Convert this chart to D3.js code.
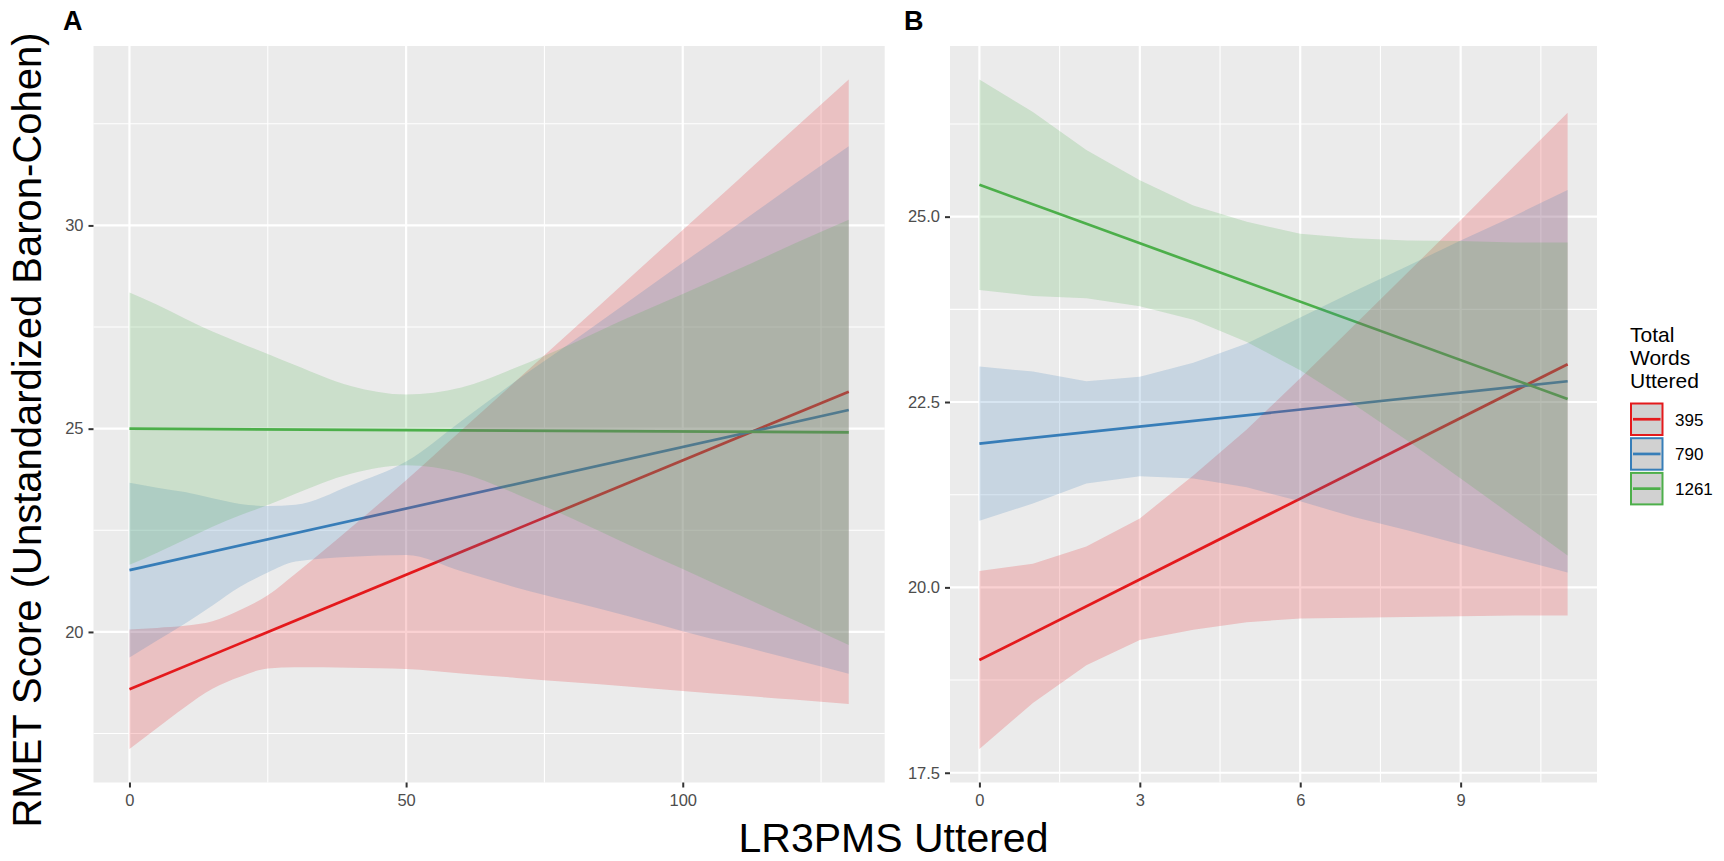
<!DOCTYPE html>
<html>
<head>
<meta charset="utf-8">
<script src="https://cdn.jsdelivr.net/npm/d3@7"></script>
<style>
  html, body { margin: 0; padding: 0; background: #ffffff; }
  svg { display: block; }
  text { font-family: "Liberation Sans", Arial, Helvetica, sans-serif; }
</style>
</head>
<body>
<svg id="chart" width="1724" height="861"></svg>
<script>
// ---------------- DATA ----------------
const groups = ["395", "790", "1261"];
const groupColors = ["#E41A1C", "#377EB8", "#4DAF4A"];

// Panel A: x = LR3PMS uttered
const xA = [0, 5, 10, 15, 20, 25, 30, 40, 50, 60, 70, 80, 90, 100, 110, 120, 130];
const lineA_395  = [18.59, 25.91];   // fitted values at x = 0 and x = 130
const lineA_790  = [21.52, 25.46];
const lineA_1261 = [25.00, 24.91];
const loA_395  = [17.12, 17.64, 18.15, 18.60, 18.90, 19.10, 19.13, 19.12, 19.09, 18.98, 18.87, 18.76, 18.66, 18.55, 18.44, 18.34, 18.23];
const hiA_395  = [20.06, 20.10, 20.15, 20.26, 20.54, 20.90, 21.43, 22.56, 23.73, 24.96, 26.19, 27.42, 28.66, 29.89, 31.12, 32.36, 33.59];
const loA_790  = [19.37, 19.79, 20.20, 20.65, 21.11, 21.46, 21.73, 21.85, 21.89, 21.49, 21.09, 20.74, 20.39, 20.02, 19.67, 19.32, 18.97];
const hiA_790  = [23.67, 23.55, 23.44, 23.29, 23.15, 23.10, 23.13, 23.61, 24.19, 25.19, 26.19, 27.14, 28.11, 29.08, 30.03, 31.00, 31.95];
const loA_1261 = [21.65, 21.95, 22.27, 22.59, 22.87, 23.12, 23.40, 23.89, 24.10, 23.91, 23.39, 22.79, 22.16, 21.55, 20.92, 20.30, 19.68];
const hiA_1261 = [28.35, 28.05, 27.71, 27.39, 27.11, 26.84, 26.56, 26.05, 25.84, 26.01, 26.51, 27.09, 27.72, 28.31, 28.92, 29.54, 30.14];

// Panel B
const xB = [0, 1, 2, 3, 4, 5, 6, 7, 8, 9, 10, 11];
const lineB_395  = [19.02, 23.01];   // fitted values at x = 0 and x = 11
const lineB_790  = [21.94, 22.78];
const lineB_1261 = [25.43, 22.54];
const loB_395  = [17.82, 18.44, 18.95, 19.29, 19.43, 19.53, 19.58, 19.59, 19.60, 19.61, 19.62, 19.62];
const hiB_395  = [20.22, 20.32, 20.55, 20.93, 21.51, 22.13, 22.82, 23.53, 24.24, 24.95, 25.68, 26.40];
const loB_790  = [20.90, 21.13, 21.40, 21.50, 21.47, 21.35, 21.16, 20.95, 20.77, 20.58, 20.39, 20.20];
const hiB_790  = [22.98, 22.91, 22.78, 22.84, 23.03, 23.29, 23.64, 23.99, 24.33, 24.68, 25.01, 25.36];
const loB_1261 = [24.01, 23.93, 23.90, 23.79, 23.61, 23.31, 22.93, 22.47, 21.98, 21.47, 20.95, 20.43];
const hiB_1261 = [26.85, 26.41, 25.90, 25.49, 25.15, 24.93, 24.77, 24.71, 24.68, 24.67, 24.65, 24.65];

// Axis ticks
const xTicksA = [0, 50, 100];
const xMinorA = [25, 75, 125];
const yTicksA = [20, 25, 30];
const yMinorA = [17.5, 22.5, 27.5, 32.5];
const xTicksB = [0, 3, 6, 9];
const xMinorB = [1.5, 4.5, 7.5, 10.5];
const yTicksB = [17.5, 20.0, 22.5, 25.0];
const yMinorB = [18.75, 21.25, 23.75, 26.25];

const yTitle = "RMET Score (Unstandardized Baron-Cohen)";
const xTitle = "LR3PMS Uttered";
const legendTitle = ["Total", "Words", "Uttered"];

// ---------------- DRAWING ----------------
const svg = d3.select("#chart");
const TOP = 46, BOTTOM = 782.5;

function expand(arr) {
  const e = d3.extent(arr);
  const p = (e[1] - e[0]) * 0.05;
  return [e[0] - p, e[1] + p];
}

function drawPanel(cfg) {
  const x = d3.scaleLinear().domain(expand(cfg.xs)).range([cfg.left, cfg.right]);
  const allY = [].concat(...cfg.lo, ...cfg.hi);
  const y = d3.scaleLinear().domain(expand(allY)).range([BOTTOM, TOP]);
  const g = svg.append("g");

  g.append("rect").attr("x", cfg.left).attr("y", TOP)
    .attr("width", cfg.right - cfg.left).attr("height", BOTTOM - TOP)
    .attr("fill", "#EBEBEB");

  // minor grid
  cfg.yMinor.forEach(v => g.append("line").attr("x1", cfg.left).attr("x2", cfg.right)
    .attr("y1", y(v)).attr("y2", y(v)).attr("stroke", "#ffffff").attr("stroke-width", 1.1));
  cfg.xMinor.forEach(v => g.append("line").attr("y1", TOP).attr("y2", BOTTOM)
    .attr("x1", x(v)).attr("x2", x(v)).attr("stroke", "#ffffff").attr("stroke-width", 1.1));
  // major grid
  cfg.yTicks.forEach(v => g.append("line").attr("x1", cfg.left).attr("x2", cfg.right)
    .attr("y1", y(v)).attr("y2", y(v)).attr("stroke", "#ffffff").attr("stroke-width", 2.2));
  cfg.xTicks.forEach(v => g.append("line").attr("y1", TOP).attr("y2", BOTTOM)
    .attr("x1", x(v)).attr("x2", x(v)).attr("stroke", "#ffffff").attr("stroke-width", 2.2));

  // lines (drawn first, ribbons overlay them as in the original)
  const x0 = cfg.xs[0], x1 = cfg.xs[cfg.xs.length - 1];
  cfg.lines.forEach((ln, i) => {
    g.append("path")
      .attr("d", d3.line().x(d => x(d[0])).y(d => y(d[1]))([[x0, ln[0]], [x1, ln[1]]]))
      .attr("stroke", groupColors[i]).attr("stroke-width", 2.7).attr("fill", "none");
  });

  // ribbons
  const area = d3.area().curve(cfg.curve)
    .x(d => x(d.x)).y0(d => y(d.lo)).y1(d => y(d.hi));
  cfg.lo.forEach((lo, i) => {
    const pts = cfg.xs.map((xv, j) => ({ x: xv, lo: lo[j], hi: cfg.hi[i][j] }));
    g.append("path").attr("d", area(pts))
      .attr("fill", groupColors[i]).attr("fill-opacity", 0.2).attr("stroke", "none");
  });

  // axes
  const xAxis = d3.axisBottom(x).tickValues(cfg.xTicks).tickSize(5).tickPadding(7)
    .tickFormat(cfg.xFmt);
  const yAxis = d3.axisLeft(y).tickValues(cfg.yTicks).tickSize(5).tickPadding(5)
    .tickFormat(cfg.yFmt);
  const gx = g.append("g").attr("transform", `translate(0,${BOTTOM})`).call(xAxis);
  const gy = g.append("g").attr("transform", `translate(${cfg.left},0)`).call(yAxis);
  [gx, gy].forEach(a => {
    a.select(".domain").remove();
    a.selectAll(".tick line").attr("stroke", "#333333").attr("stroke-width", 2);
    a.selectAll(".tick text").attr("fill", "#4D4D4D").attr("font-size", 16.5)
      .attr("font-family", "Liberation Sans, Arial, sans-serif");
  });

  // panel tag
  svg.append("text").attr("x", cfg.tagX).attr("y", 30).text(cfg.tag)
    .attr("font-size", 27).attr("font-weight", "bold").attr("fill", "#000");
}

drawPanel({
  tag: "A", tagX: 63, left: 93.5, right: 884.7, xs: xA,
  lines: [lineA_395, lineA_790, lineA_1261],
  lo: [loA_395, loA_790, loA_1261], hi: [hiA_395, hiA_790, hiA_1261],
  xTicks: xTicksA, xMinor: xMinorA, yTicks: yTicksA, yMinor: yMinorA,
  xFmt: d3.format("d"), yFmt: d3.format("d"), curve: d3.curveMonotoneX
});
drawPanel({
  tag: "B", tagX: 904, left: 950, right: 1597, xs: xB,
  lines: [lineB_395, lineB_790, lineB_1261],
  lo: [loB_395, loB_790, loB_1261], hi: [hiB_395, hiB_790, hiB_1261],
  xTicks: xTicksB, xMinor: xMinorB, yTicks: yTicksB, yMinor: yMinorB,
  xFmt: d3.format("d"), yFmt: d3.format(".1f"), curve: d3.curveLinear
});

// axis titles
svg.append("text").attr("transform", "translate(41,430) rotate(-90)")
  .attr("text-anchor", "middle").attr("font-size", 40).attr("fill", "#000").text(yTitle);
svg.append("text").attr("x", 893.5).attr("y", 852)
  .attr("text-anchor", "middle").attr("font-size", 41).attr("fill", "#000").text(xTitle);

// legend
const lg = svg.append("g");
legendTitle.forEach((t, i) => lg.append("text").attr("x", 1630).attr("y", 342 + i * 23.2)
  .attr("font-size", 21).attr("fill", "#000").text(t));
groups.forEach((name, i) => {
  const y0 = 402.5 + i * 34.7;
  lg.append("rect").attr("x", 1631).attr("y", y0 + 1).attr("width", 31.5).attr("height", 31.5)
    .attr("fill", "#D1D1D1").attr("stroke", groupColors[i]).attr("stroke-width", 2);
  lg.append("line").attr("x1", 1633).attr("x2", 1660.5)
    .attr("y1", y0 + 16.75).attr("y2", y0 + 16.75)
    .attr("stroke", groupColors[i]).attr("stroke-width", 2.7);
  lg.append("text").attr("x", 1675).attr("y", y0 + 23).attr("font-size", 17)
    .attr("fill", "#000").text(name);
});
</script>
</body>
</html>
